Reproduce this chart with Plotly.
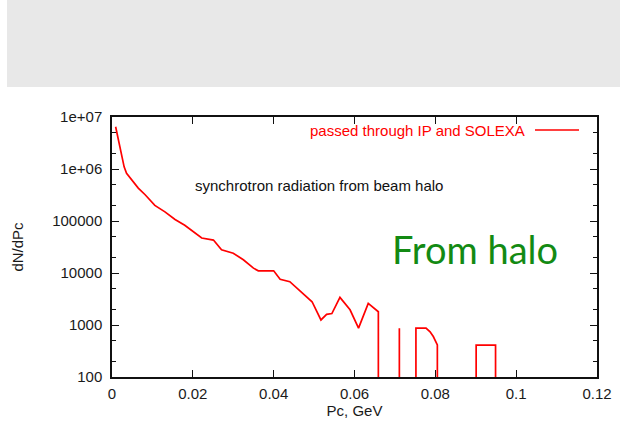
import plotly.graph_objects as go

# ---- data ----
FLOOR = 1  # zero-count bins, drawn below the visible range
pc_gev = [0.0009, 0.0016, 0.0022, 0.0030, 0.0036, 0.0049, 0.0065, 0.0082, 0.0106, 0.0131,
          0.0156, 0.0180, 0.0205, 0.0222, 0.0251, 0.0271, 0.0300, 0.0325, 0.0350, 0.0362,
          0.0400, 0.0416, 0.0440, 0.0465, 0.0495, 0.0517, 0.0531, 0.0544, 0.0564, 0.0589,
          0.0610, 0.0634, 0.0659, 0.0659,
          0.0711, 0.0711, 0.0711,
          0.0752, 0.0752, 0.0777, 0.0787, 0.0795, 0.0800, 0.0803, 0.0805, 0.0805,
          0.0901, 0.0901, 0.0949, 0.0949]
dn_dpc = [6.5e6, 3.6e6, 2.0e6, 1.1e6, 8.3e5, 6.2e5, 4.3e5, 3.2e5, 2.0e5, 1.5e5,
          1.07e5, 8.3e4, 5.8e4, 4.7e4, 4.3e4, 2.8e4, 2.4e4, 1.8e4, 1.24e4, 1.1e4,
          1.1e4, 7.6e3, 6.8e3, 4.5e3, 2.8e3, 1.25e3, 1.6e3, 1.66e3, 3.4e3, 1.96e3,
          8.7e2, 2.6e3, 1.8e3, FLOOR,
          FLOOR, 870, FLOOR,
          FLOOR, 870, 870, 740, 600, 480, 415, 415, FLOOR,
          FLOOR, 412, 412, FLOOR]

x_tickvals = [0, 0.02, 0.04, 0.06, 0.08, 0.10, 0.12]
x_ticktext = ["0", "0.02", "0.04", "0.06", "0.08", "0.1", "0.12"]
y_tickvals = [1e2, 1e3, 1e4, 1e5, 1e6, 1e7]
y_ticktext = ["100", "1000", "10000", "100000", "1e+06", "1e+07"]
y_minorvals = [m * 10 ** e for e in range(2, 7) for m in (2, 5)]

legend_label = "passed through IP and SOLEXA"
note_label = "synchrotron radiation from beam halo"
big_label = "From halo"

FONT = "Liberation Sans, Arial, sans-serif"
TXT = "#1a1a1a"

fig = go.Figure()
fig.add_trace(go.Scatter(x=pc_gev, y=dn_dpc, mode="lines",
                         line=dict(color="#ff0000", width=1.7),
                         name=legend_label, showlegend=False))

axis_common = dict(showline=True, linecolor="#111111", linewidth=1.5, mirror="allticks",
                   ticks="inside", ticklen=7, tickwidth=1.3, tickcolor="#111111",
                   showgrid=False, zeroline=False, automargin=False,
                   tickfont=dict(family=FONT, size=15, color=TXT))

fig.update_layout(
    width=620, height=425,
    margin=dict(l=112, r=23, t=117, b=48),
    paper_bgcolor="white", plot_bgcolor="white",
    xaxis=dict(range=[0, 0.12], tickmode="array", tickvals=x_tickvals, ticktext=x_ticktext,
               ticklabelstandoff=2,
               title=dict(text="Pc, GeV", font=dict(family=FONT, size=15, color=TXT), standoff=5),
               **axis_common),
    yaxis=dict(type="log", range=[2, 7], tickmode="array", tickvals=y_tickvals, ticktext=y_ticktext,
               ticklabelstandoff=5,
               title=dict(text="dN/dPc", font=dict(family=FONT, size=15, color=TXT), standoff=25),
               minor=dict(tickmode="array", tickvals=y_minorvals, ticks="inside", ticklen=4,
                          tickcolor="#111111", tickwidth=1.2, showgrid=False),
               **axis_common),
)

# textured banner at the top (flat grey)
fig.add_shape(type="rect", xref="paper", yref="paper",
              x0=(7 - 112) / 485, x1=(620 - 112) / 485, y0=(377 - 87) / 260, y1=(377 + 5) / 260,
              fillcolor="#e8e8e8", line=dict(width=0), layer="below")

# key: label text with red line sample on its right
fig.add_annotation(xref="paper", yref="paper", x=(527 - 112) / 485, y=(377 - 130) / 260,
                   xanchor="right", yanchor="middle", showarrow=False, text=legend_label,
                   font=dict(family=FONT, size=15, color="#ff0000"))
fig.add_shape(type="line", xref="paper", yref="paper",
              x0=(535 - 112) / 485, x1=(579 - 112) / 485, y0=(377 - 130) / 260, y1=(377 - 130) / 260,
              line=dict(color="#ff0000", width=1.7))

fig.add_annotation(xref="paper", yref="paper", x=(193 - 112) / 485, y=(377 - 185) / 260,
                   xanchor="left", yanchor="middle", showarrow=False, text=note_label,
                   font=dict(family=FONT, size=15, color="#111111"))

fig.add_annotation(xref="paper", yref="paper", x=(390 - 112) / 485, y=(377 - 249) / 260,
                   xanchor="left", yanchor="middle", showarrow=False, text=big_label,
                   font=dict(family="Lato, sans-serif", size=38, color="#138a13"))

fig.write_html("out.html")
